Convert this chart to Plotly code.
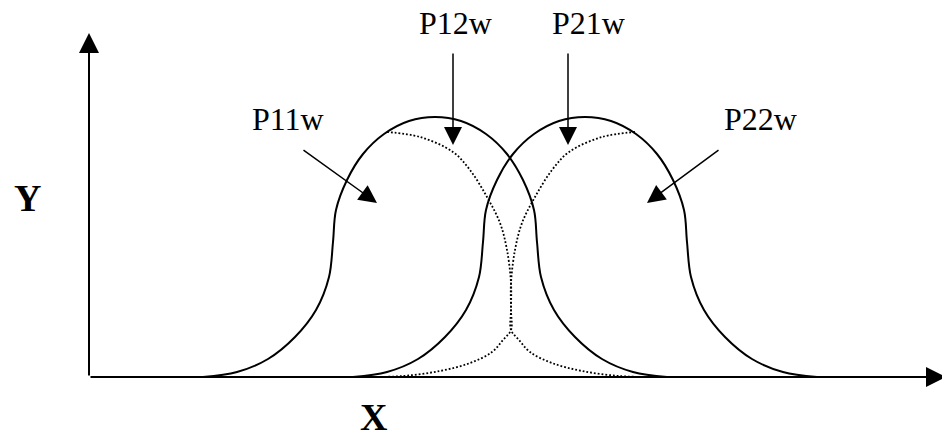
import plotly.graph_objects as go

# Solid curves (data units: x right from origin, y up from baseline)
curve1_x = [114, 148, 179, 206, 227, 240, 244, 247, 258, 274, 295, 320, 346,
            372, 397, 418, 434, 445, 448, 452, 465, 486, 513, 544, 578]
curve1_y = [0, 5, 18, 40, 67, 100, 135, 167, 197, 223, 243, 256, 260,
            256, 243, 223, 197, 167, 135, 100, 67, 40, 18, 5, 0]
curve2_x = [264, 298, 329, 356, 377, 390, 394, 397, 408, 424, 445, 470, 496,
            522, 547, 568, 584, 595, 598, 602, 615, 636, 663, 694, 728]
curve2_y = [0, 5, 18, 40, 67, 100, 135, 167, 197, 223, 243, 256, 260,
            256, 243, 223, 197, 167, 135, 100, 67, 40, 18, 5, 0]

# Dotted curves
dotted_a_x = [298, 331, 364, 381, 398, 411, 418, 422, 422, 422, 414, 403, 381, 351, 314, 281]
dotted_a_y = [245, 240, 225, 207, 180, 154, 127, 94, 67, 47, 37, 25, 14, 6, 1, 0]
dotted_b_x = [546, 513, 480, 463, 446, 433, 426, 422, 422, 422, 430, 441, 463, 493, 530, 563]
dotted_b_y = [245, 240, 225, 207, 180, 154, 127, 94, 67, 47, 37, 25, 14, 6, 1, 0]

# Labels with pointer arrows: text position, arrow tail, arrow tip
label_texts = ["P11w", "P12w", "P21w", "P22w"]
label_x = [199, 366, 499, 671]
label_y = [258, 354, 354, 258]
arrow_tail_x = [213, 364, 479, 631]
arrow_tail_y = [228, 325, 325, 228]
arrow_tip_x = [288, 364, 479, 558]
arrow_tip_y = [174, 232, 232, 174]

axis_title_x = "X"
axis_title_y = "Y"

fig = go.Figure()

for xs, ys in [(curve1_x, curve1_y), (curve2_x, curve2_y)]:
    fig.add_trace(go.Scatter(x=xs, y=ys, mode="lines",
                             line=dict(color="black", width=2, shape="spline", smoothing=1),
                             hoverinfo="skip", showlegend=False))

for xs, ys in [(dotted_a_x, dotted_a_y), (dotted_b_x, dotted_b_y)]:
    fig.add_trace(go.Scatter(x=xs, y=ys, mode="lines",
                             line=dict(color="black", width=1.8, shape="spline", smoothing=1,
                                       dash="1.8px,2px"),
                             hoverinfo="skip", showlegend=False))

annotations = []
# Axes with arrowheads
annotations.append(dict(x=0, y=344, ax=0, ay=0, xref="x", yref="y", axref="x", ayref="y",
                        text="", showarrow=True, arrowhead=2, arrowsize=2, arrowwidth=2,
                        arrowcolor="black"))
annotations.append(dict(x=857, y=0, ax=0, ay=0, xref="x", yref="y", axref="x", ayref="y",
                        text="", showarrow=True, arrowhead=2, arrowsize=2, arrowwidth=2,
                        arrowcolor="black"))

for t, lx, ly, tx, ty, hx, hy in zip(label_texts, label_x, label_y,
                                     arrow_tail_x, arrow_tail_y, arrow_tip_x, arrow_tip_y):
    annotations.append(dict(x=lx, y=ly, xref="x", yref="y", text=t, showarrow=False,
                            font=dict(family="Liberation Serif", size=32, color="black")))
    annotations.append(dict(x=hx, y=hy, ax=tx, ay=ty, xref="x", yref="y", axref="x", ayref="y",
                            text="", showarrow=True, arrowhead=2, arrowsize=2.4, arrowwidth=1.5,
                            arrowcolor="black"))

annotations.append(dict(x=-62, y=179, xref="x", yref="y", text="<b>" + axis_title_y + "</b>",
                        showarrow=False,
                        font=dict(family="Liberation Serif", size=38, color="black")))
annotations.append(dict(x=284, y=-40, xref="x", yref="y", text="<b>" + axis_title_x + "</b>",
                        showarrow=False,
                        font=dict(family="Liberation Serif", size=38, color="black")))

fig.update_layout(
    width=942, height=447,
    margin=dict(l=0, r=0, t=0, b=0),
    paper_bgcolor="white", plot_bgcolor="white",
    xaxis=dict(range=[-89, 853], visible=False, fixedrange=True),
    yaxis=dict(range=[-70, 377], visible=False, fixedrange=True),
    annotations=annotations,
    showlegend=False,
)

fig.write_html("out.html", config={"displayModeBar": False},
               post_script="document.body.style.margin='0';document.body.style.overflow='hidden';")
